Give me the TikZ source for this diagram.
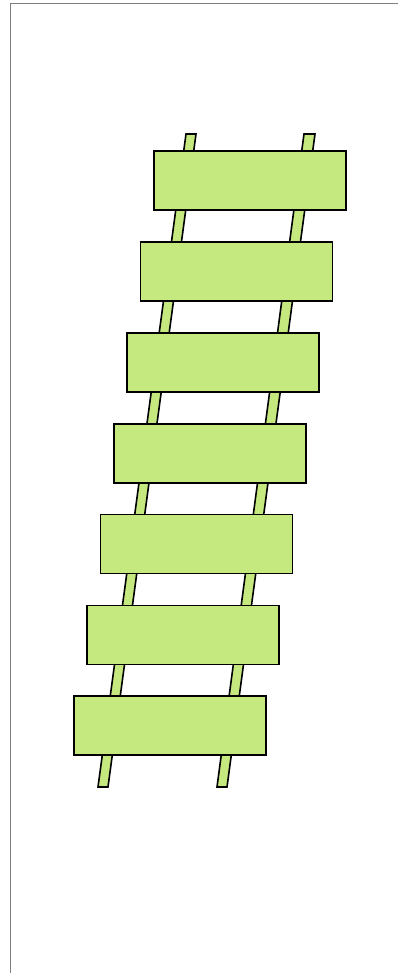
\documentclass[tikz,border=0pt]{standalone}
\definecolor{leaf}{HTML}{C5E87F}
\definecolor{frame}{HTML}{808080}
\tikzset{
  rung/.style={draw=black, line width=1.6pt, fill=leaf, rectangle, inner sep=0pt, minimum width=192pt, minimum height=59pt, anchor=north west},
  rail/.style={draw=black, line width=1.6pt, fill=leaf, line join=miter},
  edge/.style={draw=frame, line width=1.5pt}
}
\begin{document}
\begin{tikzpicture}[x=1pt, y=-1pt]
\useasboundingbox (0,0) rectangle (398,973);
\draw[edge] (10.5,973) -- (10.5,3.5) -- (398,3.5);
% rails
\draw[rail] (186,134) -- (196,134) -- (108,787) -- (98,787) -- cycle;
\draw[rail] (304,134) -- (315,134) -- (227,787) -- (217,787) -- cycle;
% rungs
\node[rung] (r1) at (153,150) {};
\node[rung] (r2) at (139.7,241) {};
\node[rung] (r3) at (126.3,332) {};
\node[rung] (r4) at (113,423) {};
\node[rung] (r5) at (99.7,513.5) {};
\node[rung] (r6) at (86.3,604.5) {};
\node[rung] (r7) at (73,695) {};
\end{tikzpicture}
\end{document}
